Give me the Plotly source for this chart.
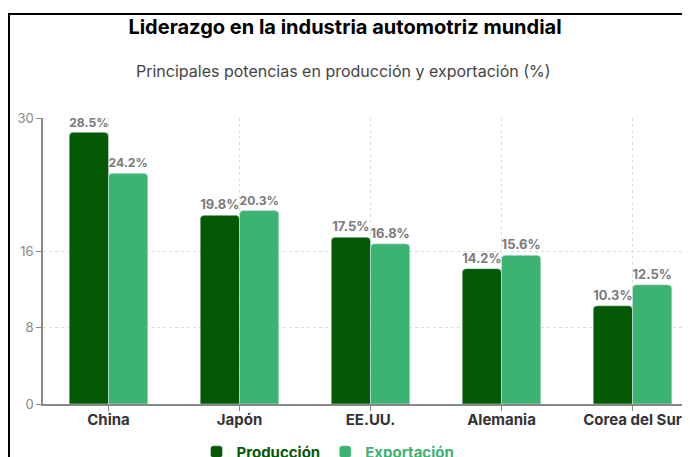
import plotly.graph_objects as go

countries = ['China', 'Japón', 'EE.UU.', 'Alemania', 'Corea del Sur']
produccion = [28.5, 19.8, 17.5, 14.2, 10.3]
exportacion = [24.2, 20.3, 16.8, 15.6, 12.5]
y_ticks = [0, 8, 16, 30]

dark_green = '#045a04'
light_green = '#3cb371'

# the page puts the figure 8px in from the top-left corner
W, H = 690, 457
L, R, T, B = 35, 0, 110, 61
pw, ph = W - L - R, H - T - B


def px_x(x):
    return (x - 8 - L) / pw


def px_y(y):
    return (H - B - (y - 8)) / ph


fig = go.Figure()

fig.add_trace(go.Bar(
    x=countries, y=produccion,
    name=f"<span style='color:{dark_green}'><b>Producción</b></span>",
    marker=dict(color=dark_green),
    texttemplate='%{y}%', textposition='outside',
    textfont=dict(color='#7a7a7a', size=13, family='Inter', weight='bold'),
    cliponaxis=False
))
fig.add_trace(go.Bar(
    x=countries, y=exportacion,
    name=f"<span style='color:{light_green}'><b>Exportación</b></span>",
    marker=dict(color=light_green),
    texttemplate='%{y}%', textposition='outside',
    textfont=dict(color='#7a7a7a', size=13, family='Inter', weight='bold'),
    cliponaxis=False
))

# frame around the chart (runs off the right and bottom of the window)
fig.add_shape(type='rect', xref='paper', yref='paper',
              x0=px_x(9), x1=1.2, y0=-0.6, y1=px_y(14),
              line=dict(color='black', width=2), layer='above')

fig.add_annotation(text='Principales potencias en producción y exportación (%)',
                   xref='paper', yref='paper', x=px_x(343), y=px_y(71),
                   xanchor='center', yanchor='middle',
                   showarrow=False, font=dict(size=16, color='#444', family='Inter'))

fig.update_layout(
    width=W, height=H,
    margin=dict(l=L, r=R, t=T, b=B, autoexpand=False),
    paper_bgcolor='white', plot_bgcolor='white',
    font=dict(family='Inter', color='#333'),
    title=dict(text='<b>Liderazgo en la industria automotriz mundial</b>',
               x=(345 - 8) / W, xanchor='center', y=1 - (27 - 8) / H, yanchor='middle',
               font=dict(size=20, color='black', family='Inter')),
    barmode='group', bargap=0.4, bargroupgap=0,
    barcornerradius=4,
    legend=dict(orientation='h', x=px_x(328), xanchor='center',
                y=px_y(452), yanchor='middle',
                font=dict(size=15, family='Inter'), itemwidth=30),
)

fig.update_xaxes(
    range=[-0.5, 4.5],
    showline=True, linecolor='#888', linewidth=1.5,
    ticks='outside', ticklen=5, tickcolor='#888',
    ticklabelstandoff=-4,
    showgrid=True, gridcolor='#dddddd', griddash='dot',
    tickfont=dict(size=15, color='#333', family='Inter', weight='bold'),
)
fig.update_yaxes(
    range=[0, 30], tickvals=y_ticks,
    showline=True, linecolor='#888', linewidth=1.5,
    ticks='outside', ticklen=5, tickcolor='#888',
    showgrid=True, gridcolor='#dddddd', griddash='dot',
    zeroline=False,
    tickfont=dict(size=13, color='#888', family='Inter'),
)

fig.write_html("out.html")
